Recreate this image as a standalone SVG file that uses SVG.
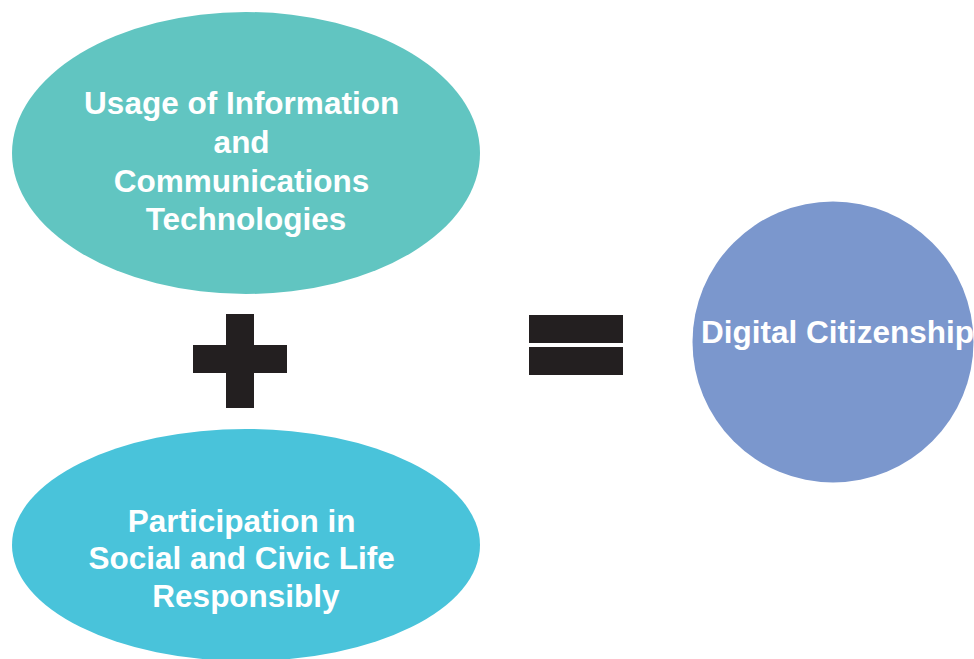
<svg xmlns="http://www.w3.org/2000/svg" width="974" height="659" viewBox="0 0 974 659">
  <style>
    .label { font-family: "Liberation Sans", Arial, sans-serif; font-weight: bold; font-size: 31.5px; fill: #ffffff; }
    .sign { fill: #231f20; }
  </style>
  <rect width="974" height="659" fill="#ffffff"/>

  <g id="ict-usage">
    <ellipse cx="246" cy="153" rx="234" ry="141" fill="#61c5c1"/>
    <text class="label" text-anchor="middle">
      <tspan x="246" y="114">Usage of Information</tspan>
      <tspan x="246" y="153">and</tspan>
      <tspan x="246" y="192">Communications</tspan>
      <tspan x="246" y="230">Technologies</tspan>
    </text>
  </g>

  <g id="participation">
    <ellipse cx="246" cy="545" rx="234" ry="116" fill="#49c3da"/>
    <text class="label" text-anchor="middle">
      <tspan x="246" y="532">Participation in</tspan>
      <tspan x="246" y="569">Social and Civic Life</tspan>
      <tspan x="246" y="607">Responsibly</tspan>
    </text>
  </g>

  <g id="digital-citizenship">
    <circle cx="833" cy="342" r="140.5" fill="#7b97cd"/>
    <text class="label" x="701" y="343">Digital Citizenship</text>
  </g>

  <g id="operators">
    <g id="plus">
      <rect class="sign" x="226" y="314" width="28" height="94"/>
      <rect class="sign" x="193" y="345" width="94" height="28"/>
    </g>
    <g id="equals">
      <rect class="sign" x="529" y="315" width="94" height="28"/>
      <rect class="sign" x="529" y="347" width="94" height="28"/>
    </g>
  </g>
</svg>
